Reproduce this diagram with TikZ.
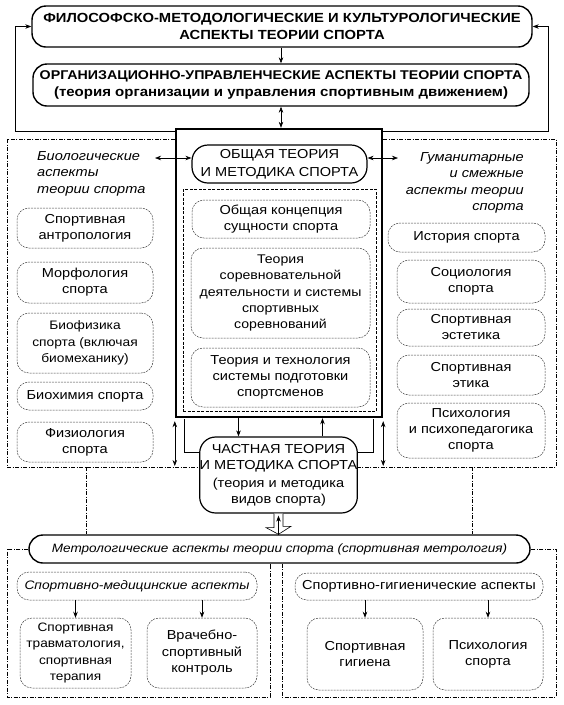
\documentclass[tikz,border=0pt]{standalone}
\usepackage{fontspec}
\setmainfont{Liberation Sans}[FakeStretch=1.12]
\usetikzlibrary{arrows.meta}
\newcommand\Bxx[7]{\node[#6, minimum width={(#4)-(#2)}, minimum height={(#5)-(#3)}] (#1) at ({((#2)+(#4))/2},{((#3)+(#5))/2}) {#7};}
\begin{document}
\begin{tikzpicture}[x=1pt,y=-1pt,
  every node/.style={inner sep=0pt, align=center, font=\fontsize{13}{16}\selectfont},
  tbox/.style={draw, line width=1.4pt, rounded corners=14pt},
  mbox/.style={draw, line width=1.2pt, rounded corners=16pt},
  dbox/.style={draw=black!75, line width=0.5pt, dash pattern=on 2pt off 1pt, rounded corners=12pt},
  region/.style={line width=0.6pt, dash pattern=on 4pt off 1.5pt on 1pt off 1.5pt},
  arr/.style={-{Stealth[length=6pt,width=4.5pt]}, line width=0.6pt},
  darr/.style={{Stealth[length=6pt,width=4.5pt]}-{Stealth[length=6pt,width=4.5pt]}, line width=0.6pt},
  ttl/.style={font=\bfseries\fontsize{13.2}{17}\selectfont},
]
\useasboundingbox (0,0) rectangle (563,705);
% top boxes
\Bxx{top1}{32}{6}{532}{47}{tbox,ttl}{ФИЛОСОФСКО-МЕТОДОЛОГИЧЕСКИЕ И КУЛЬТУРОЛОГИЧЕСКИЕ\\АСПЕКТЫ ТЕОРИИ СПОРТА}
\Bxx{top2}{33}{64}{529}{106}{tbox,font=\bfseries\fontsize{12.7}{17}\selectfont}{ОРГАНИЗАЦИОННО-УПРАВЛЕНЧЕСКИЕ АСПЕКТЫ ТЕОРИИ СПОРТА\\{\fontsize{13.4}{17}\selectfont(теория организации и управления спортивным движением)}}
% big box
\Bxx{big}{176}{129}{382}{417}{draw,line width=2.4pt}{}
\Bxx{inner}{183}{189}{376}{411}{draw,line width=0.5pt,dash pattern=on 3pt off 1.5pt}{}
\Bxx{obsh}{192}{145}{367}{183}{mbox,font=\fontsize{13}{18}\selectfont}{ОБЩАЯ ТЕОРИЯ\\И МЕТОДИКА СПОРТА}
\Bxx{c1}{192}{200}{370}{238}{dbox}{Общая концепция\\сущности спорта}
\Bxx{c2}{191}{248}{370}{338}{dbox,font=\fontsize{12.6}{16.3}\selectfont}{Теория\\соревновательной\\деятельности и системы\\спортивных\\соревнований}
\Bxx{c3}{191}{348}{370}{407}{dbox}{Теория и технология\\системы подготовки\\спортсменов}
% left column
\node[anchor=north west, align=left, font=\itshape\fontsize{13}{16.5}\selectfont] (bio) at (37,151) {Биологические\\аспекты\\теории спорта};
\Bxx{l1}{17}{208}{153}{248}{dbox}{Спортивная\\антропология}
\Bxx{l2}{17}{262}{153}{303}{dbox}{Морфология\\спорта}
\Bxx{l3}{17}{313}{153}{373}{dbox,font=\fontsize{12.3}{16.5}\selectfont}{Биофизика\\спорта (включая\\биомеханику)}
\Bxx{l4}{17}{382}{153}{410}{dbox}{Биохимия спорта}
\Bxx{l5}{17}{422}{153}{462}{dbox}{Физиология\\спорта}
% right column
\node[anchor=north east, align=right, font=\itshape\fontsize{13}{16.5}\selectfont] (hum) at (524,152) {Гуманитарные\\и смежные\\аспекты теории\\спорта};
\Bxx{r1}{388}{223}{545}{252}{dbox}{История спорта}
\Bxx{r2}{397}{260}{545}{303}{dbox}{Социология\\спорта}
\Bxx{r3}{397}{309}{545}{346}{dbox}{Спортивная\\эстетика}
\Bxx{r4}{397}{355}{545}{395}{dbox}{Спортивная\\этика}
\Bxx{r5}{397}{403}{545}{458}{dbox}{Психология\\и психопедагогика\\спорта}
% chastnaya
\Bxx{chast}{200}{437}{357}{513}{mbox}{ЧАСТНАЯ ТЕОРИЯ\\И МЕТОДИКА СПОРТА\\[2pt](теория и методика\\видов спорта)}
% metrology
\Bxx{metro}{29}{535}{530}{563}{tbox,font=\itshape\fontsize{12.1}{16}\selectfont}{Метрологические аспекты теории спорта (спортивная метрология)}
\Bxx{m0}{17}{572}{257}{600}{dbox,font=\itshape\fontsize{12.3}{16}\selectfont}{Спортивно-медицинские аспекты}
\Bxx{m1}{20}{618}{131}{688}{dbox,font=\fontsize{12.2}{16.5}\selectfont}{Спортивная\\травматология,\\спортивная\\терапия}
\Bxx{m2}{147}{618}{257}{688}{dbox,font=\fontsize{13}{16.5}\selectfont}{Врачебно-\\спортивный\\контроль}
\Bxx{g0}{295}{573}{543}{600}{dbox}{Спортивно-гигиенические аспекты}
\Bxx{g1}{307}{618}{423}{690}{dbox}{Спортивная\\гигиена}
\Bxx{g2}{433}{618}{543}{690}{dbox}{Психология\\спорта}
% connectors top
\draw[arr] (top2.north |- top1.south) -- (top2.north);
\draw[darr] (top2.south) -- (top2.south |- big.north);
\draw[arr] ([yshift=-3pt]big.north west) -| ([xshift=-16pt]top1.west) -- (top1.west);
\draw[arr] ([yshift=-3pt]big.north east) -| ([xshift=16pt]top1.east) -- (top1.east);
% side arrows
\coordinate (bioR) at (155,158);
\coordinate (humL) at (398,158);
\draw[darr] (bioR) -- (obsh.west |- bioR);
\draw[darr] (obsh.east |- humL) -- (humL);
% regions
\draw[region] (big.north west |- 0,139) -- (7,139) -- (7,467) -- (chast.west |- 0,467);
\draw[region] (big.north east |- 0,139) -- (556,139) -- (556,467) -- (chast.east |- 0,467);
\draw[region] (86,467) -- (metro.north -| 86,0);
\draw[region] (472,467) -- (metro.north -| 472,0);
\draw[region] (metro.west) -- (7,549) -- (7,697) -- (270,697) -- (metro.south -| 270,0);
\draw[region] (metro.south -| 282,0) -- (282,697) -- (556,697) -- (556,549) -- (metro.east);
% big to chast
\coordinate (a1) at ([xshift=-40pt]chast.north);
\coordinate (a2) at ([xshift=44pt]chast.north);
\draw[arr] (a1 |- big.south) -- (a1);
\draw[arr] (a2) -- (a2 |- big.south);
\draw[line width=0.6pt] ([xshift=9pt,yshift=-1.2pt]big.south west) |- ([yshift=23pt]chast.west);
\draw[line width=0.6pt] ([xshift=-10pt,yshift=-1.2pt]big.south east) |- ([yshift=23pt]chast.east);
\draw[darr] ([yshift=-3pt]big.south west) -- (big.south west |- 0,466);
\draw[darr] ([yshift=-3pt]big.south east) -- (big.south east |- 0,466);
% hollow arrow
\draw[line width=0.6pt, fill=white] ([xshift=-4.5pt]chast.south) -- ++(0,14) -- ++(-8,0) -- (metro.north -| chast.south) -- ++(12.5,-8) -- ++(-8,0) -- ([xshift=4.5pt]chast.south);
\draw[arr] ([yshift=-1pt]metro.north -| chast.south) -- ([yshift=-2pt]chast.south);
% bottom arrows
\draw[arr] (m0.south -| m1.north) -- (m1.north);
\draw[arr] (m0.south -| m2.north) -- (m2.north);
\draw[arr] (g0.south -| g1.north) -- (g1.north);
\draw[arr] (g0.south -| g2.north) -- (g2.north);
\end{tikzpicture}
\end{document}
